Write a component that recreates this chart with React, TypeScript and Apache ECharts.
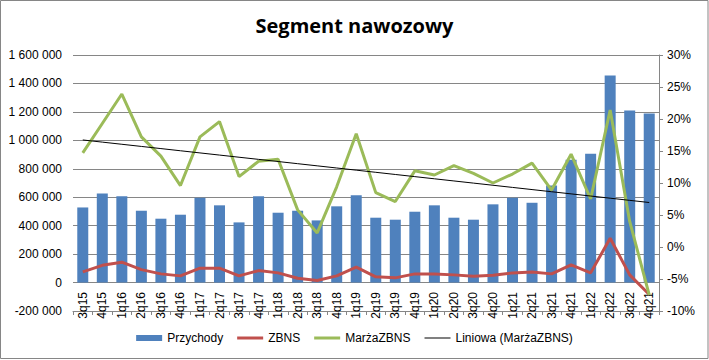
import React, { useEffect, useRef } from "react";
import * as echarts from "echarts";

const categories = [
  "3q15", "4q15", "1q16", "2q16", "3q16", "4q16", "1q17", "2q17", "3q17", "4q17",
  "1q18", "2q18", "3q18", "4q18", "1q19", "2q19", "3q19", "4q19", "1q20", "2q20",
  "3q20", "4q20", "1q21", "2q21", "3q21", "4q21", "1q22", "2q22", "3q22", "4q21",
];

const przychody = [
  528000, 627000, 606000, 505000, 449000, 477000, 597000, 543000, 423000, 606000,
  491000, 505000, 437000, 536000, 613000, 456000, 442000, 498000, 543000, 456000,
  442000, 550000, 597000, 561000, 683000, 863000, 905000, 1455000, 1209000, 1188000,
];

const zbns = [
  75000, 121000, 143000, 91000, 61000, 47000, 101000, 101000, 47000, 84000,
  68000, 30000, 14000, 47000, 108000, 40000, 33000, 61000, 61000, 54000,
  44000, 51000, 68000, 75000, 61000, 124000, 68000, 311000, 54000, -84000,
];

// percent
const marzaZbns = [
  14.7, 19.3, 23.9, 17.2, 14.2, 9.6, 17.2, 19.6, 11.0, 13.4,
  13.7, 5.8, 2.2, 9.4, 17.7, 8.5, 7.1, 11.9, 11.25, 12.7,
  11.5, 10.0, 11.4, 13.1, 8.9, 14.5, 7.5, 21.4, 4.0, -7.5,
];

const leftTicks = { min: -200000, max: 1600000, interval: 200000 };
const rightTicks = { min: -10, max: 30, interval: 5 };

function linearTrend(values: number[]): number[] {
  const n = values.length;
  let sx = 0, sy = 0, sxx = 0, sxy = 0;
  values.forEach((v, i) => {
    const x = i + 1;
    sx += x; sy += v; sxx += x * x; sxy += x * v;
  });
  const slope = (n * sxy - sx * sy) / (n * sxx - sx * sx);
  const intercept = (sy - slope * sx) / n;
  return values.map((_, i) => +(intercept + slope * (i + 1)).toFixed(3));
}

function fmtSpace(v: number): string {
  const s = Math.abs(v).toString().replace(/\B(?=(\d{3})+(?!\d))/g, " ");
  return (v < 0 ? "-" : "") + s;
}

const FONT = "'Liberation Sans', Arial, sans-serif";

const ICON_BAR = "path://M0,0.5h26v6h-26z";
const ICON_THICK = "path://M0,0M26,7M0,2h26v3h-26z";
const ICON_THIN = "path://M0,0M26,7M0,3h26v1h-26z";

export default function App() {
  const ref = useRef<HTMLDivElement>(null);

  useEffect(() => {
    if (!ref.current) return;
    const chart = echarts.init(ref.current, undefined, { renderer: "svg" });
    const trend = linearTrend(marzaZbns);
    chart.setOption({
      animation: false,
      backgroundColor: "#ffffff",
      textStyle: { fontFamily: FONT },
      title: {
        text: "Segment nawozowy",
        left: "center",
        top: 10,
        textStyle: {
          fontFamily: "'Open Sans', sans-serif",
          fontWeight: "bold",
          fontSize: 20,
          color: "#000",
        },
      },
      graphic: [
        {
          type: "rect",
          shape: { x: 0.5, y: 0.5, width: 707.5, height: 358 },
          style: { fill: "none", stroke: "#868686", lineWidth: 1 },
          silent: true,
          z: 100,
        },
      ],
      legend: {
        bottom: 11,
        left: "center",
        itemWidth: 26,
        itemHeight: 7,
        itemGap: 14,
        textStyle: { fontFamily: FONT, fontSize: 12, color: "#000" },
        data: [
          { name: "Przychody", icon: ICON_BAR },
          { name: "ZBNS", icon: ICON_THICK },
          { name: "MarżaZBNS", icon: ICON_THICK },
          { name: "Liniowa (MarżaZBNS)", icon: ICON_THIN },
        ],
      },
      grid: { left: 73, right: 50, top: 55, bottom: 49 },
      xAxis: {
        type: "category",
        data: categories,
        boundaryGap: true,
        axisLine: { show: true, onZero: false, lineStyle: { color: "#868686" } },
        axisTick: { show: true, interval: 0, length: 4, lineStyle: { color: "#868686" } },
        axisLabel: {
          interval: 0,
          rotate: 90,
          margin: -19,
          fontSize: 12,
          color: "#000",
          fontFamily: FONT,
        },
      },
      yAxis: [
        {
          type: "value",
          min: leftTicks.min,
          max: leftTicks.max,
          interval: leftTicks.interval,
          axisLine: { show: false },
          axisTick: { show: false },
          splitLine: { show: true, lineStyle: { color: "#868686" } },
          axisLabel: {
            fontSize: 12,
            color: "#000",
            margin: 11,
            fontFamily: FONT,
            formatter: (v: number) => fmtSpace(v),
          },
        },
        {
          type: "value",
          min: rightTicks.min,
          max: rightTicks.max,
          interval: rightTicks.interval,
          position: "right",
          axisLine: { show: true, lineStyle: { color: "#868686" } },
          axisTick: { show: true, length: 4, lineStyle: { color: "#868686" } },
          splitLine: { show: false },
          axisLabel: {
            fontSize: 12,
            color: "#000",
            margin: 8,
            fontFamily: FONT,
            formatter: (v: number) => `${v}%`,
          },
        },
      ],
      series: [
        {
          name: "Przychody",
          type: "bar",
          data: przychody,
          yAxisIndex: 0,
          barWidth: 11,
          itemStyle: { color: "#4F81BD" },
          z: 2,
        },
        {
          name: "ZBNS",
          type: "line",
          data: zbns,
          yAxisIndex: 0,
          symbol: "none",
          lineStyle: { color: "#C0504D", width: 3 },
          itemStyle: { color: "#C0504D" },
          z: 3,
        },
        {
          name: "MarżaZBNS",
          type: "line",
          data: marzaZbns,
          yAxisIndex: 1,
          symbol: "none",
          lineStyle: { color: "#9BBB59", width: 3 },
          itemStyle: { color: "#9BBB59" },
          z: 4,
        },
        {
          name: "Liniowa (MarżaZBNS)",
          type: "line",
          data: trend,
          yAxisIndex: 1,
          symbol: "none",
          lineStyle: { color: "#000000", width: 1 },
          itemStyle: { color: "#000000" },
          z: 5,
        },
      ],
    });
    return () => chart.dispose();
  }, []);

  return (
    <div
      ref={ref}
      style={{ position: "absolute", left: 0, top: 0, width: 709, height: 360 }}
    />
  );
}
